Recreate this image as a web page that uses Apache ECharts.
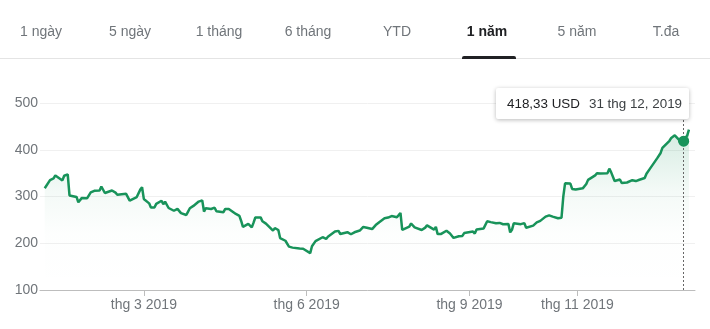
<!DOCTYPE html>
<html>
<head>
<meta charset="utf-8">
<script src="https://cdn.jsdelivr.net/npm/echarts@6/dist/echarts.min.js"></script>
<style>
  html, body { margin: 0; padding: 0; background: #fff; }
  #chart { width: 710px; height: 329px; }
</style>
</head>
<body>
<div id="chart"></div>
<script>
// ---- Data (TSLA close, USD) ----
const dates = [
  '2019-01-04','2019-01-07','2019-01-08','2019-01-09','2019-01-10','2019-01-11','2019-01-14','2019-01-15','2019-01-16','2019-01-17','2019-01-18','2019-01-22','2019-01-23','2019-01-24','2019-01-25','2019-01-28','2019-01-29','2019-01-30','2019-01-31',
  '2019-02-01','2019-02-04','2019-02-05','2019-02-06','2019-02-07','2019-02-08','2019-02-11','2019-02-12','2019-02-13','2019-02-14','2019-02-15','2019-02-19','2019-02-20','2019-02-21','2019-02-22','2019-02-25','2019-02-26','2019-02-27','2019-02-28',
  '2019-03-01','2019-03-04','2019-03-05','2019-03-06','2019-03-07','2019-03-08','2019-03-11','2019-03-12','2019-03-13','2019-03-14','2019-03-15','2019-03-18','2019-03-19','2019-03-20','2019-03-21','2019-03-22','2019-03-25','2019-03-26','2019-03-27','2019-03-28','2019-03-29',
  '2019-04-01','2019-04-02','2019-04-03','2019-04-04','2019-04-05','2019-04-08','2019-04-09','2019-04-10','2019-04-11','2019-04-12','2019-04-15','2019-04-16','2019-04-17','2019-04-18','2019-04-22','2019-04-23','2019-04-24','2019-04-25','2019-04-26','2019-04-29','2019-04-30',
  '2019-05-01','2019-05-02','2019-05-03','2019-05-06','2019-05-07','2019-05-08','2019-05-09','2019-05-10','2019-05-13','2019-05-14','2019-05-15','2019-05-16','2019-05-17','2019-05-20','2019-05-21','2019-05-22','2019-05-23','2019-05-24','2019-05-28','2019-05-29','2019-05-30','2019-05-31',
  '2019-06-03','2019-06-04','2019-06-05','2019-06-06','2019-06-07','2019-06-10','2019-06-11','2019-06-12','2019-06-13','2019-06-14','2019-06-17','2019-06-18','2019-06-19','2019-06-20','2019-06-21','2019-06-24','2019-06-25','2019-06-26','2019-06-27','2019-06-28',
  '2019-07-01','2019-07-02','2019-07-03','2019-07-05','2019-07-08','2019-07-09','2019-07-10','2019-07-11','2019-07-12','2019-07-15','2019-07-16','2019-07-17','2019-07-18','2019-07-19','2019-07-22','2019-07-23','2019-07-24','2019-07-25','2019-07-26','2019-07-29','2019-07-30','2019-07-31',
  '2019-08-01','2019-08-02','2019-08-05','2019-08-06','2019-08-07','2019-08-08','2019-08-09','2019-08-12','2019-08-13','2019-08-14','2019-08-15','2019-08-16','2019-08-19','2019-08-20','2019-08-21','2019-08-22','2019-08-23','2019-08-26','2019-08-27','2019-08-28','2019-08-29','2019-08-30',
  '2019-09-03','2019-09-04','2019-09-05','2019-09-06','2019-09-09','2019-09-10','2019-09-11','2019-09-12','2019-09-13','2019-09-16','2019-09-17','2019-09-18','2019-09-19','2019-09-20','2019-09-23','2019-09-24','2019-09-25','2019-09-26','2019-09-27','2019-09-30',
  '2019-10-01','2019-10-02','2019-10-03','2019-10-04','2019-10-07','2019-10-08','2019-10-09','2019-10-10','2019-10-11','2019-10-14','2019-10-15','2019-10-16','2019-10-17','2019-10-18','2019-10-21','2019-10-22','2019-10-23','2019-10-24','2019-10-25','2019-10-28','2019-10-29','2019-10-30','2019-10-31',
  '2019-11-01','2019-11-04','2019-11-05','2019-11-06','2019-11-07','2019-11-08','2019-11-11','2019-11-12','2019-11-13','2019-11-14','2019-11-15','2019-11-18','2019-11-19','2019-11-20','2019-11-21','2019-11-22','2019-11-25','2019-11-26','2019-11-27','2019-11-29',
  '2019-12-02','2019-12-03','2019-12-04','2019-12-05','2019-12-06','2019-12-09','2019-12-10','2019-12-11','2019-12-12','2019-12-13','2019-12-16','2019-12-17','2019-12-18','2019-12-19','2019-12-20','2019-12-23','2019-12-24','2019-12-26','2019-12-27','2019-12-30','2019-12-31',
  '2020-01-02','2020-01-03'
];
const closes = [
  317.69,334.96,335.35,338.53,344.97,347.26,334.40,344.43,346.05,347.31,302.26,298.92,287.59,291.51,297.04,296.38,297.46,308.77,307.02,
  312.21,312.89,321.35,317.22,307.51,305.80,312.84,311.81,308.17,303.77,307.88,305.64,302.56,291.23,294.71,298.77,297.86,314.74,319.88,
  294.79,285.36,276.54,276.24,276.59,284.14,290.92,283.36,288.96,289.96,275.43,269.49,267.47,273.60,274.02,264.53,260.42,267.77,274.83,278.62,279.86,
  289.18,285.88,291.81,267.78,274.96,273.20,272.31,276.06,268.42,267.70,266.38,273.36,271.23,273.26,262.75,263.90,258.66,247.63,235.14,241.47,238.69,
  234.01,244.10,255.03,255.34,247.06,244.84,241.98,239.52,227.01,232.31,231.95,228.33,211.03,205.36,205.08,192.73,195.49,190.63,188.70,189.86,188.22,185.16,
  178.97,193.60,196.59,204.50,204.47,212.88,217.10,209.26,213.91,214.92,225.03,224.74,226.43,219.62,221.86,223.64,219.76,219.27,222.84,223.46,
  227.17,224.55,234.90,233.10,230.34,230.06,238.92,238.60,245.08,253.50,252.38,254.86,253.54,258.18,255.68,260.17,264.88,228.82,228.04,235.77,242.26,241.61,
  233.85,234.34,228.32,230.75,233.42,238.30,235.01,229.01,235.00,219.62,215.64,219.94,226.83,225.86,220.83,222.15,211.40,215.00,214.08,215.59,221.71,225.61,
  225.01,220.68,229.58,227.45,231.79,235.54,247.10,245.87,245.20,242.81,244.79,243.49,246.60,240.62,241.23,223.21,228.70,242.56,242.13,240.87,
  244.69,243.13,233.03,231.43,237.72,240.05,244.53,244.74,247.89,256.96,257.89,259.75,261.97,256.95,253.50,255.58,254.68,299.68,328.13,327.71,316.22,315.01,314.92,
  313.31,317.47,317.22,326.58,335.54,337.14,345.09,349.93,346.11,349.35,352.17,349.99,359.52,352.22,354.83,333.04,336.34,328.92,331.29,329.94,
  334.87,336.20,333.03,330.37,335.89,339.53,348.84,352.70,359.68,358.39,381.50,378.99,393.15,404.04,405.59,419.22,425.25,430.94,430.38,414.70,418.33,
  430.26,443.01
];
const tickDates = ['2019-03-01', '2019-06-01', '2019-09-01', '2019-11-01'];
const tickLabels = ['thg 3 2019', 'thg 6 2019', 'thg 9 2019', 'thg 11 2019'];
const yTicks = [100, 200, 300, 400, 500];
const tabs = ['1 ngày', '5 ngày', '1 tháng', '6 tháng', 'YTD', '1 năm', '5 năm', 'T.đa'];
const activeTab = '1 năm';
const highlightDate = '2019-12-31';
const currency = 'USD';

// ---- Chart ----
const GREEN = '#18935a';
const FONT = 'Arial, "Liberation Sans", sans-serif';
const toTime = (s) => echarts.time.parse(s).getTime();
const chart = echarts.init(document.getElementById('chart'), null, { renderer: 'canvas' });

const seriesData = dates.map((d, i) => [toTime(d), closes[i]]);
const hiIdx = dates.indexOf(highlightDate);
const hiTime = toTime(highlightDate);
const tickTimes = tickDates.map(toTime);

function fmtTooltip(idx) {
  const v = closes[idx].toFixed(2).replace('.', ',');
  const p = dates[idx].split('-');
  return '<span style="color:#202124">' + v + ' ' + currency + '</span>' +
         '<span style="color:#3c4043;margin-left:9px">' + (+p[2]) + ' thg ' + (+p[1]) + ', ' + p[0] + '</span>';
}

const tabCenters = [41, 130, 219, 308, 397, 487, 577, 666];
const graphics = [
  { type: 'rect', shape: { x: 0, y: 58, width: 710, height: 1 }, style: { fill: '#e4e4e4' }, silent: true },
  { type: 'rect', shape: { x: 462, y: 56, width: 54, height: 3, r: [2, 2, 0, 0] }, style: { fill: '#202124' }, silent: true }
];
tabs.forEach((t, i) => {
  graphics.push({
    type: 'text', x: tabCenters[i], y: 32, silent: true,
    style: {
      text: t, fontSize: 14, fontFamily: FONT,
      fontWeight: t === activeTab ? 'bold' : 'normal',
      fill: t === activeTab ? '#202124' : '#70757a',
      align: 'center', verticalAlign: 'middle'
    }
  });
});

chart.setOption({
  animation: false,
  backgroundColor: '#fff',
  textStyle: { fontFamily: FONT },
  grid: { left: 40, right: 15, top: 103, bottom: 39 },
  graphic: graphics,
  tooltip: {
    trigger: 'axis',
    axisPointer: { type: 'none' },
    alwaysShowContent: true,
    transitionDuration: 0,
    backgroundColor: '#fff',
    borderWidth: 0,
    padding: [7, 7, 7, 11],
    extraCssText: 'box-shadow:0 1px 4px rgba(0,0,0,0.28);border-radius:2px;font-family:Arial,"Liberation Sans",sans-serif;font-size:13.4px;line-height:17px;white-space:nowrap;',
    formatter: () => fmtTooltip(hiIdx),
    position: function (pt, params, dom, rect, size) {
      const px = chart.convertToPixel({ gridIndex: 0 }, [hiTime, closes[hiIdx]]);
      return [px[0] - size.contentSize[0] + 5, 88];
    }
  },
  xAxis: {
    type: 'value',
    min: toTime('2019-01-01 08:00'),
    max: toTime('2020-01-06 10:00'),
    axisLine: { show: true, lineStyle: { color: '#bdbdbd', width: 1 } },
    axisTick: { show: true, customValues: tickTimes, length: 6, lineStyle: { color: '#bdbdbd' } },
    axisLabel: {
      customValues: tickTimes, margin: 8, fontSize: 14, color: '#70757a', fontFamily: FONT,
      formatter: (val) => {
        const i = tickTimes.indexOf(val);
        return i >= 0 ? tickLabels[i] : '';
      }
    },
    splitLine: { show: false }
  },
  yAxis: {
    type: 'value',
    min: yTicks[0], max: yTicks[yTicks.length - 1], interval: 100,
    axisLine: { show: false },
    axisTick: { show: false },
    axisLabel: { margin: 2, fontSize: 14, color: '#70757a', fontFamily: FONT },
    splitLine: { lineStyle: { color: '#f0f0f0', width: 1 } }
  },
  series: [{
    type: 'line',
    data: seriesData,
    showSymbol: false,
    symbol: 'circle',
    symbolSize: 10,
    itemStyle: { color: GREEN },
    lineStyle: { color: GREEN, width: 2.5 },
    emphasis: { disabled: true },
    areaStyle: {
      color: new echarts.graphic.LinearGradient(0, 0, 0, 1, [
        { offset: 0, color: 'rgba(24,147,90,0.26)' },
        { offset: 0.38, color: 'rgba(24,147,90,0.07)' },
        { offset: 0.65, color: 'rgba(24,147,90,0.01)' },
        { offset: 1, color: 'rgba(24,147,90,0)' }
      ])
    },
    markLine: {
      silent: true, symbol: 'none', label: { show: false },
      lineStyle: { color: '#666', width: 1, type: [2, 2] },
      data: [{ xAxis: hiTime }]
    },
    markPoint: {
      silent: true, symbol: 'circle', symbolSize: 10,
      itemStyle: { color: GREEN },
      label: { show: false },
      data: [{ coord: [hiTime, closes[hiIdx]] }]
    }
  }]
});

chart.dispatchAction({ type: 'showTip', seriesIndex: 0, dataIndex: hiIdx });
</script>
</body>
</html>
